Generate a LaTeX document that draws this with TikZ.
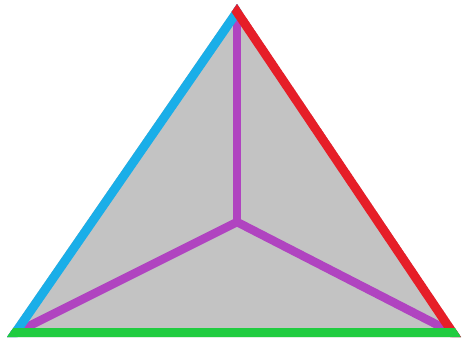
\documentclass[tikz,border=0pt]{standalone}
\usetikzlibrary{calc}
\definecolor{faceGray}{HTML}{C3C3C3}
\definecolor{edgeBlue}{HTML}{1AAEE8}
\definecolor{edgeRed}{HTML}{E61E28}
\definecolor{edgeGreen}{HTML}{20CC40}
\definecolor{ridgePurple}{HTML}{B044C0}
\begin{document}
\begin{tikzpicture}[
    x=1pt, y=-1pt,
    edge/.style={line width=18pt, line cap=butt},
    ridge/.style={line width=8.5pt, draw=ridgePurple}
  ]
    \useasboundingbox[fill=white] (0,0) rectangle (463,343);
    \coordinate (apex) at (237,4);
    \coordinate (left) at (7,337);
    \coordinate (right) at (461,337);
    \coordinate (mid) at (237,222);
    \begin{scope}
      \clip (apex) -- (left) -- (right) -- cycle;
      \fill[faceGray] (apex) -- (left) -- (right) -- cycle;
      % ridges from the top and base corners to the middle
      \draw[ridge] (apex) -- (mid);
      \draw[ridge] (left) -- (mid);
      \draw[ridge] (right) -- (mid);
      % outline
      \draw[edge, draw=edgeBlue] (left) -- (apex);
      \draw[edge, draw=edgeRed] (apex) -- (right);
      \draw[edge, draw=edgeGreen] (left) -- (right);
    \end{scope}
  \end{tikzpicture}
\end{document}
